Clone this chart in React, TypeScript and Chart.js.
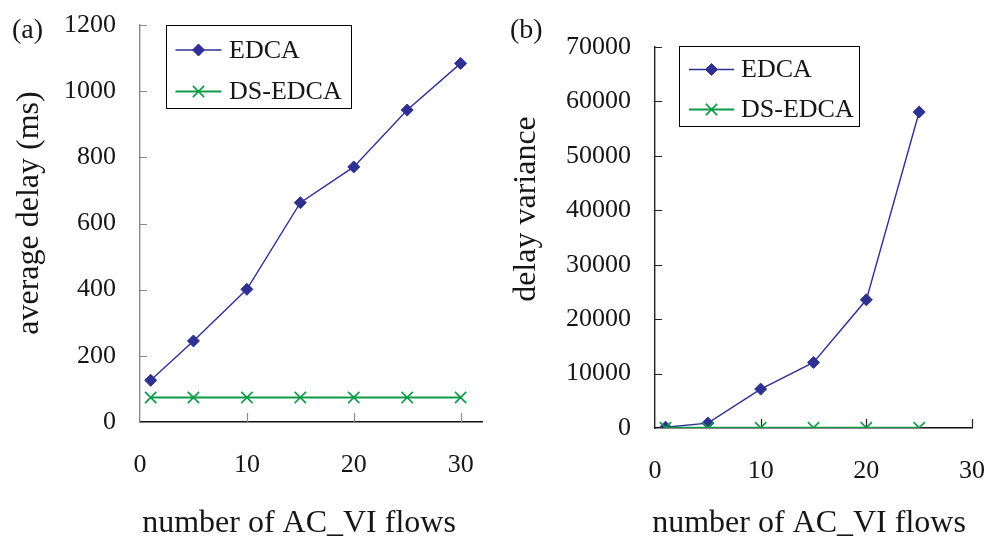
import React, { useEffect, useRef } from 'react';
import { Chart, registerables } from 'chart.js';
import { drawPoint } from 'chart.js/helpers';

Chart.register(...registerables);

// ---------- data ----------
const flowsA = [1, 5, 10, 15, 20, 25, 30];
const edcaDelay = [126, 245, 401, 663, 771, 943, 1084];
const dsEdcaDelay = [74, 74, 74, 74, 74, 74, 74];

const flowsB = [1, 5, 10, 15, 20, 25];
const edcaVariance = [150, 900, 7150, 12050, 23550, 58050];
const dsEdcaVariance = [50, 50, 50, 50, 50, 50];

const seriesNames = ['EDCA', 'DS-EDCA'];
const xTickValues = [0, 10, 20, 30];
const xTitle = 'number of AC_VI flows';
const yTitleA = 'average delay (ms)';
const yTitleB = 'delay variance';
const panelLabels = ['(a)', '(b)'];

// ---------- style ----------
const FONT = "'Liberation Serif', 'Times New Roman', Times, serif";
const NAVY = '#2E3192';
const GREEN = '#0E9A48';
const TEXT = '#161616';

const insideTicks = {
  id: 'insideTicks',
  beforeDatasetsDraw(chart: any, _a: any, opts: any) {
    const ctx = chart.ctx;
    ctx.save();
    for (const id of ['x', 'y']) {
      const s = chart.scales[id];
      const o = opts[id];
      if (!s || !o) continue;
      ctx.strokeStyle = o.color;
      ctx.lineWidth = o.width;
      ctx.beginPath();
      s.ticks.forEach((t: any) => {
        if (t.value === s.min) return;
        const p = Math.round(s.getPixelForValue(t.value)) + 0.5;
        if (id === 'x') {
          const b = chart.chartArea.bottom;
          ctx.moveTo(p, b);
          ctx.lineTo(p, b - o.length);
        } else {
          const l = chart.chartArea.left;
          ctx.moveTo(l, p);
          ctx.lineTo(l + o.length, p);
        }
      });
      ctx.stroke();
    }
    ctx.restore();
  },
};

const boxLegend = {
  id: 'boxLegend',
  afterDraw(chart: any, _a: any, o: any) {
    const ctx = chart.ctx;
    ctx.save();
    ctx.strokeStyle = '#000';
    ctx.lineWidth = 1;
    ctx.strokeRect(Math.round(o.left) + 0.5, Math.round(o.top) + 0.5, Math.round(o.width), Math.round(o.height));
    chart.data.datasets.forEach((ds: any, i: number) => {
      const y = o.rowY[i];
      ctx.strokeStyle = ds.borderColor;
      ctx.lineWidth = ds.borderWidth;
      ctx.beginPath();
      ctx.moveTo(o.lineX0, y);
      ctx.lineTo(o.lineX1, y);
      ctx.stroke();
      ctx.fillStyle = ds.pointBackgroundColor;
      ctx.strokeStyle = ds.pointBorderColor;
      ctx.lineWidth = ds.pointBorderWidth;
      drawPoint(ctx, { pointStyle: ds.pointStyle, radius: ds.pointRadius, borderWidth: ds.pointBorderWidth, rotation: 0 }, (o.lineX0 + o.lineX1) / 2, y);
      ctx.fillStyle = TEXT;
      ctx.font = `${o.fontSize}px ${FONT}`;
      ctx.textAlign = 'left';
      ctx.textBaseline = 'middle';
      ctx.fillText(ds.label, o.textX, y + 1);
    });
    ctx.restore();
  },
};

const panelText = {
  id: 'panelText',
  afterDraw(chart: any, _a: any, o: any) {
    const ctx = chart.ctx;
    o.items.forEach((it: any) => {
      ctx.save();
      ctx.font = `${it.size}px ${FONT}`;
      ctx.fillStyle = TEXT;
      ctx.textAlign = it.align;
      ctx.textBaseline = 'alphabetic';
      ctx.translate(it.x, it.y);
      if (it.rotate) ctx.rotate(-Math.PI / 2);
      ctx.fillText(it.text, 0, 0);
      ctx.restore();
    });
  },
};

function makeConfig(p: any): any {
  return {
    type: 'line',
    data: {
      datasets: [
        {
          label: seriesNames[0],
          data: p.xs.map((x: number, i: number) => ({ x, y: p.edca[i] })),
          borderColor: NAVY,
          backgroundColor: NAVY,
          borderWidth: 1.4,
          pointStyle: 'rectRot',
          pointRadius: 6,
          pointBorderWidth: 1,
          pointBackgroundColor: NAVY,
          pointBorderColor: NAVY,
          tension: 0,
          order: 1,
        },
        {
          label: seriesNames[1],
          data: p.xs.map((x: number, i: number) => ({ x, y: p.ds[i] })),
          borderColor: GREEN,
          backgroundColor: GREEN,
          borderWidth: 2,
          pointStyle: 'crossRot',
          pointRadius: 8,
          pointBorderWidth: 1.6,
          pointBackgroundColor: GREEN,
          pointBorderColor: GREEN,
          tension: 0,
          order: 0,
        },
      ],
    },
    options: {
      animation: false,
      responsive: false,
      maintainAspectRatio: false,
      events: [],
      layout: { padding: p.padding },
      plugins: {
        legend: { display: false },
        tooltip: { enabled: false },
        insideTicks: {
          x: { color: p.xTickColor, width: 1.2, length: 9 },
          y: { color: p.yTickColor, width: 1.2, length: 7 },
        },
        boxLegend: p.legend,
        panelText: { items: p.texts },
      },
      scales: {
        x: {
          type: 'linear',
          min: 0,
          max: p.xMax,
          afterBuildTicks: (s: any) => {
            s.ticks = xTickValues.map((v) => ({ value: v }));
          },
          afterFit: (s: any) => {
            s.height = p.xHeight;
            s.paddingLeft = 0;
            s.paddingRight = 0;
          },
          grid: { display: false },
          border: { display: true, color: p.xAxisColor, width: 1.4 },
          ticks: {
            font: { size: 26, family: FONT },
            color: TEXT,
            padding: p.xPad,
            maxRotation: 0,
            autoSkip: false,
            callback: (v: any) => String(v),
          },
        },
        y: {
          type: 'linear',
          min: 0,
          max: p.yMax,
          afterFit: (s: any) => {
            s.width = p.yWidth;
            s.paddingTop = 0;
            s.paddingBottom = 0;
          },
          grid: { display: false },
          border: { display: true, color: p.yAxisColor, width: 1.4 },
          ticks: {
            stepSize: p.yStep,
            font: { size: 26, family: FONT },
            color: TEXT,
            padding: p.yPad,
            autoSkip: false,
            callback: (v: any) => String(v),
          },
        },
      },
    },
    plugins: [insideTicks, boxLegend, panelText],
  };
}

const LEFT_W = 493;
const RIGHT_W = 494;
const H = 540;

export default function App() {
  const leftRef = useRef<HTMLCanvasElement>(null);
  const rightRef = useRef<HTMLCanvasElement>(null);

  useEffect(() => {
    const a = new Chart(leftRef.current as HTMLCanvasElement, makeConfig({
      xs: flowsA,
      edca: edcaDelay,
      ds: dsEdcaDelay,
      xMax: 32,
      yMax: 1200,
      yStep: 200,
      padding: { top: 25, right: LEFT_W - 482, left: 0, bottom: 0 },
      yWidth: 140,
      xHeight: 118,
      xPad: 20,
      yPad: 16,
      xAxisColor: '#111',
      yAxisColor: '#8a8a8a',
      xTickColor: '#8a8a8a',
      yTickColor: '#8a8a8a',
      legend: { left: 165.5, top: 25, width: 185, height: 83, rowY: [50, 91.5], lineX0: 175.5, lineX1: 221.5, textX: 229, fontSize: 26 },
      texts: [
        { text: panelLabels[0], x: 12, y: 38, size: 28, align: 'left' },
        { text: yTitleA, x: 38, y: 213, size: 32, align: 'center', rotate: true },
        { text: xTitle, x: 299, y: 532, size: 32, align: 'center' },
      ],
    }));
    const b = new Chart(rightRef.current as HTMLCanvasElement, makeConfig({
      xs: flowsB,
      edca: edcaVariance,
      ds: dsEdcaVariance,
      xMax: 30,
      yMax: 70000,
      yStep: 10000,
      padding: { top: 47, right: RIGHT_W - 479, left: 0, bottom: 0 },
      yWidth: 162,
      xHeight: 112,
      xPad: 20,
      yPad: 16,
      xAxisColor: '#111',
      yAxisColor: '#222',
      xTickColor: '#222',
      yTickColor: '#222',
      legend: { left: 186, top: 45.5, width: 180, height: 79.5, rowY: [69.5, 109.5], lineX0: 196, lineX1: 241, textX: 248, fontSize: 26 },
      texts: [
        { text: panelLabels[1], x: 17, y: 38, size: 28, align: 'left' },
        { text: yTitleB, x: 42, y: 209, size: 32, align: 'center', rotate: true },
        { text: xTitle, x: 316, y: 532, size: 32, align: 'center' },
      ],
    }));
    return () => {
      a.destroy();
      b.destroy();
    };
  }, []);

  return (
    <div style={{ position: 'fixed', left: 0, top: 0, width: 987, height: H, background: '#fff' }}>
      <canvas ref={leftRef} width={LEFT_W} height={H} style={{ position: 'absolute', left: 0, top: 0, width: LEFT_W, height: H }} />
      <canvas ref={rightRef} width={RIGHT_W} height={H} style={{ position: 'absolute', left: LEFT_W, top: 0, width: RIGHT_W, height: H }} />
    </div>
  );
}
